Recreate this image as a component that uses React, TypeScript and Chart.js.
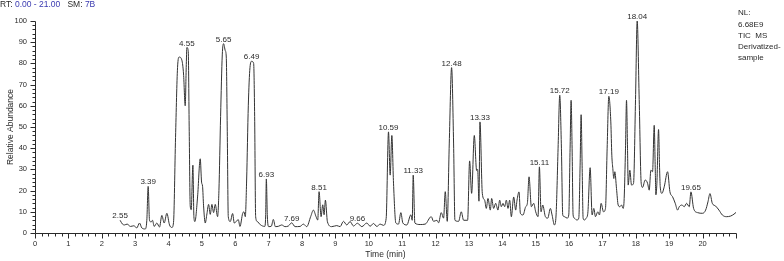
import React, { useEffect, useRef } from 'react';
import { Chart, registerables } from 'chart.js';

Chart.register(...registerables);

// ---- Data (retention time in min, relative abundance in %) ----
const retentionTimes = [
  2.55, 2.62, 2.68, 2.76, 2.86, 2.96, 3.05, 3.13, 3.2, 3.3, 3.35, 3.39, 3.43, 3.48, 3.52, 3.57, 3.65, 3.73, 3.8, 3.87,
  3.95, 4.03, 4.1, 4.15, 4.21, 4.27, 4.32, 4.4, 4.45, 4.5, 4.53, 4.55, 4.59, 4.62, 4.65, 4.68, 4.73, 4.76, 4.79, 4.87,
  4.95, 4.99, 5.02, 5.05, 5.1, 5.15, 5.2, 5.25, 5.3, 5.35, 5.4, 5.47, 5.51, 5.56, 5.61, 5.65, 5.7, 5.73, 5.76, 5.79,
  5.85, 5.92, 5.97, 6.09, 6.14, 6.22, 6.26, 6.3, 6.34, 6.39, 6.44, 6.49, 6.55, 6.58, 6.61, 6.66, 6.75, 6.88, 6.91, 6.93,
  6.96, 7.0, 7.08, 7.14, 7.2, 7.3, 7.39, 7.49, 7.59, 7.69, 7.79, 7.94, 8.04, 8.14, 8.26, 8.34, 8.42, 8.47, 8.51, 8.57,
  8.62, 8.66, 8.7, 8.76, 8.89, 9.04, 9.14, 9.24, 9.34, 9.44, 9.54, 9.66, 9.79, 9.94, 10.04, 10.14, 10.24, 10.34, 10.44, 10.52,
  10.59, 10.64, 10.69, 10.74, 10.81, 10.89, 10.96, 11.02, 11.14, 11.26, 11.3, 11.33, 11.38, 11.54, 11.69, 11.87, 11.94, 12.04, 12.09, 12.17,
  12.24, 12.29, 12.35, 12.41, 12.48, 12.54, 12.58, 12.69, 12.77, 12.84, 12.96, 13.02, 13.08, 13.16, 13.23, 13.26, 13.3, 13.33, 13.4, 13.47,
  13.52, 13.57, 13.64, 13.68, 13.74, 13.8, 13.87, 13.92, 13.97, 14.02, 14.07, 14.12, 14.17, 14.22, 14.27, 14.34, 14.4, 14.44, 14.5, 14.54,
  14.62, 14.7, 14.75, 14.8, 14.87, 14.94, 15.0, 15.07, 15.11, 15.16, 15.21, 15.29, 15.36, 15.44, 15.49, 15.56, 15.61, 15.67, 15.72, 15.77,
  15.81, 15.86, 15.94, 15.99, 16.03, 16.06, 16.09, 16.12, 16.16, 16.23, 16.29, 16.33, 16.36, 16.39, 16.42, 16.46, 16.51, 16.56, 16.63, 16.69,
  16.74, 16.79, 16.86, 16.91, 16.96, 17.03, 17.09, 17.14, 17.19, 17.25, 17.28, 17.31, 17.34, 17.37, 17.42, 17.47, 17.52, 17.57, 17.62, 17.65,
  17.69, 17.72, 17.75, 17.77, 17.82, 17.87, 17.93, 17.99, 18.04, 18.1, 18.16, 18.2, 18.28, 18.35, 18.4, 18.45, 18.5, 18.55, 18.58, 18.6,
  18.63, 18.68, 18.71, 18.73, 18.78, 18.85, 18.95, 19.02, 19.1, 19.18, 19.25, 19.3, 19.38, 19.45, 19.52, 19.6, 19.65, 19.73, 19.85, 20.0,
  20.09, 20.16, 20.22, 20.29, 20.39, 20.49, 20.59, 20.71, 20.84, 20.94, 21.0,
];

const relativeAbundance = [
  6.0, 4.2, 3.8, 4.2, 3.1, 3.4, 2.4, 4.7, 2.4, 1.9, 6.0, 22.0, 6.0, 5.2, 6.0, 3.1, 4.7, 2.8, 8.3, 4.7,
  9.3, 3.8, 2.6, 5.0, 45, 78, 83, 81.5, 75, 60, 78, 87.5, 86, 48, 12.8, 11, 32, 7.7, 5.4, 17,
  35, 24, 22, 12.8, 4.7, 9, 13.5, 8.8, 13.5, 9.6, 13.5, 7.7, 20, 55, 84, 89.3, 86, 83, 48, 7.7,
  5.4, 9.2, 4.7, 6.3, 3.1, 9.2, 10, 7.7, 25, 60, 78, 81, 80, 55, 7.7, 5.4, 3.9, 3.1, 8, 25.5,
  8, 3, 3.2, 6.4, 3, 3.2, 3.8, 3, 3.3, 4.8, 3, 3.1, 4.2, 3, 7.8, 10.8, 7.7, 6.1, 19.5, 7.7,
  13.3, 8.6, 15.5, 5.3, 3, 3.5, 3, 5.5, 3.8, 5.4, 3.3, 4.6, 3, 4.7, 3.2, 4.5, 3.1, 4.2, 3.6, 6.9,
  47.7, 27.3, 46, 23.5, 4.7, 4.2, 9.6, 4.7, 3.8, 8.6, 6, 27.3, 4.7, 4, 4.2, 7.7, 5.5, 6, 4.8, 9.6,
  7, 19.5, 5.5, 42, 78, 42, 6, 5.5, 10, 6, 6, 34, 18.7, 46, 29.5, 30, 15, 52.4, 18.7, 15.5,
  11.6, 16.3, 10.8, 16.3, 11.6, 14, 10.8, 15.5, 12.4, 14, 12.4, 15.5, 11.6, 15.5, 7.7, 17, 10.8, 15.5, 19.4, 9.3,
  8.5, 12.4, 14, 26.5, 12.4, 14, 10, 7.7, 31.2, 10, 13.2, 7.7, 7.0, 11.6, 8.5, 3.8, 8.5, 40, 65, 40,
  8.5, 7.7, 7, 8.5, 40, 62.6, 40, 8.5, 7, 6.1, 7, 32, 55.8, 32, 7, 6.1, 7, 9.3, 30.8, 8.5,
  11.6, 7.7, 10, 8.5, 14, 10, 11.6, 40, 64.5, 52.4, 36.7, 30.4, 25.7, 28.9, 21, 13.2, 12.4, 13.2, 11.6, 16.3,
  40, 62.6, 40, 22.6, 29.6, 22.6, 23.4, 63, 100, 63, 23.5, 21.5, 25, 23.5, 20.2, 29.6, 28.9, 50.8, 31, 18,
  23.5, 48.8, 31, 21.8, 18.7, 21.8, 28.9, 19.5, 17.1, 14, 10.8, 12.4, 13.2, 12.4, 14, 12.4, 19.4, 11.6, 9.6, 9.3,
  10.8, 14.7, 18.6, 14, 12.7, 10.8, 8.5, 7.7, 8, 8.9, 9.7,
];

// Annotated peak apex times
const peakLabels = [
  '2.55', '3.39', '4.55', '5.65', '6.49', '6.93', '7.69', '8.51', '9.66',
  '10.59', '11.33', '12.48', '13.33', '15.11', '15.72', '17.19', '18.04', '19.65',
];

const xTickLabels = ['0', '1', '2', '3', '4', '5', '6', '7', '8', '9', '10', '11', '12', '13', '14', '15', '16', '17', '18', '19', '20'];
const yTickLabels = ['0', '10', '20', '30', '40', '50', '60', '70', '80', '90', '100'];

const X_MIN = 0;
const X_MAX = 21;
const Y_MIN = 0;
const Y_MAX = 100;
const X_MINOR_PER_MAJOR = 5;
const Y_MINOR_PER_MAJOR = 5;

const headerParts = [
  { text: 'RT:', color: '#2a2a2a' },
  { text: ' 0.00 - 21.00', color: '#3a3ab0' },
  { text: '   SM:', color: '#2a2a2a' },
  { text: ' 7B', color: '#3a3ab0' },
];
const infoLines = ['NL:', '6.68E9', 'TIC  MS', 'Derivatized-', 'sample'];

const FONT_FAMILY = '"Liberation Sans", Arial, Helvetica, sans-serif';
const INK = '#2a2a2a';

const chromPlugin = {
  id: 'chromDecor',
  afterDatasetsDraw(chart: any) {
    const { ctx, scales } = chart;
    const xs = scales.x;
    const ys = scales.y;
    ctx.save();
    ctx.fillStyle = INK;
    ctx.font = `8px ${FONT_FAMILY}`;
    ctx.textAlign = 'center';
    ctx.textBaseline = 'alphabetic';
    peakLabels.forEach((lab) => {
      const t = parseFloat(lab);
      let best = -Infinity;
      for (let i = 0; i < retentionTimes.length; i++) {
        if (Math.abs(retentionTimes[i] - t) <= 0.045 && relativeAbundance[i] > best) best = relativeAbundance[i];
      }
      if (best === -Infinity) return;
      const px = xs.getPixelForValue(t);
      const py = ys.getPixelForValue(best);
      ctx.fillText(lab, px, py - 2);
    });
    ctx.restore();
  },
  afterDraw(chart: any) {
    const { ctx, chartArea, scales } = chart;
    const xs = scales.x;
    const ys = scales.y;
    ctx.save();
    ctx.strokeStyle = INK;
    ctx.lineWidth = 1;
    const bx = Math.round(chartArea.left) + 0.5;
    const by = Math.round(chartArea.bottom) + 0.5;
    ctx.beginPath();
    ctx.moveTo(bx, Math.round(ys.getPixelForValue(Y_MAX)) + 0.5);
    ctx.lineTo(bx, by);
    ctx.lineTo(Math.round(xs.getPixelForValue(X_MAX)) + 0.5, by);
    const nx = (X_MAX - X_MIN) * X_MINOR_PER_MAJOR;
    for (let i = 0; i <= nx; i++) {
      const v = X_MIN + i / X_MINOR_PER_MAJOR;
      const px = Math.round(xs.getPixelForValue(v)) + 0.5;
      const len = i % X_MINOR_PER_MAJOR === 0 ? 5 : 3;
      ctx.moveTo(px, by);
      ctx.lineTo(px, by + len);
    }
    const ny = 10 * Y_MINOR_PER_MAJOR;
    for (let i = 0; i <= ny; i++) {
      const v = Y_MIN + (i * (Y_MAX - Y_MIN)) / ny;
      const py = Math.round(ys.getPixelForValue(v)) + 0.5;
      const len = i % Y_MINOR_PER_MAJOR === 0 ? 5 : 3;
      ctx.moveTo(bx, py);
      ctx.lineTo(bx - len, py);
    }
    ctx.stroke();

    // header
    ctx.font = `8.5px ${FONT_FAMILY}`;
    ctx.textAlign = 'left';
    ctx.textBaseline = 'middle';
    let hx = 0;
    headerParts.forEach((p) => {
      ctx.fillStyle = p.color;
      ctx.fillText(p.text, hx, 5);
      hx += ctx.measureText(p.text).width;
    });

    // info block on the right
    ctx.fillStyle = INK;
    ctx.font = `8px ${FONT_FAMILY}`;
    const infoY = [13, 24.5, 36, 47, 58];
    infoLines.forEach((line, i) => {
      ctx.fillText(line, 738, infoY[i]);
    });
    ctx.restore();
  },
};

export default function App() {
  const canvasRef = useRef<HTMLCanvasElement | null>(null);

  useEffect(() => {
    const canvas = canvasRef.current;
    if (!canvas) return;
    const points = retentionTimes.map((t, i) => ({ x: t, y: relativeAbundance[i] }));
    const chart = new Chart(canvas, {
      type: 'line',
      data: {
        datasets: [
          {
            data: points,
            borderColor: '#333333',
            borderWidth: 1,
            pointRadius: 0,
            fill: false,
            cubicInterpolationMode: 'monotone',
          },
        ],
      },
      options: {
        responsive: false,
        animation: false,
        devicePixelRatio: 1,
        layout: { padding: { top: 21, right: 48, left: 0, bottom: 0 } },
        plugins: { legend: { display: false }, tooltip: { enabled: false } },
        scales: {
          x: {
            type: 'linear',
            min: X_MIN,
            max: X_MAX,
            afterFit: (s: any) => {
              s.height = 28;
            },
            grid: { display: false, drawTicks: true, tickLength: 5 },
            border: { display: false },
            ticks: {
              stepSize: 1,
              autoSkip: false,
              maxRotation: 0,
              padding: 1,
              color: INK,
              font: { family: FONT_FAMILY, size: 7.5 },
              callback: (_v: any, index: number) => xTickLabels[index] ?? '',
            },
            title: {
              display: true,
              text: 'Time (min)',
              color: INK,
              font: { family: FONT_FAMILY, size: 8.5 },
              padding: { top: 0, bottom: 1 },
            },
          },
          y: {
            type: 'linear',
            min: Y_MIN,
            max: Y_MAX,
            afterFit: (s: any) => {
              s.width = 35;
            },
            grid: { display: false, drawTicks: true, tickLength: 5 },
            border: { display: false },
            ticks: {
              stepSize: 10,
              autoSkip: false,
              padding: 3,
              color: INK,
              font: { family: FONT_FAMILY, size: 7.5 },
              callback: (_v: any, index: number) => yTickLabels[index] ?? '',
            },
            title: {
              display: true,
              text: 'Relative Abundance',
              color: INK,
              font: { family: FONT_FAMILY, size: 8.5 },
              padding: { top: 6, bottom: 0 },
            },
          },
        },
      },
      plugins: [chromPlugin],
    } as any);
    return () => chart.destroy();
  }, []);

  return (
    <div style={{ position: 'absolute', left: 0, top: 0, width: 784, height: 261, background: '#fff' }}>
      <canvas ref={canvasRef} width={784} height={261} style={{ display: 'block' }} />
    </div>
  );
}
